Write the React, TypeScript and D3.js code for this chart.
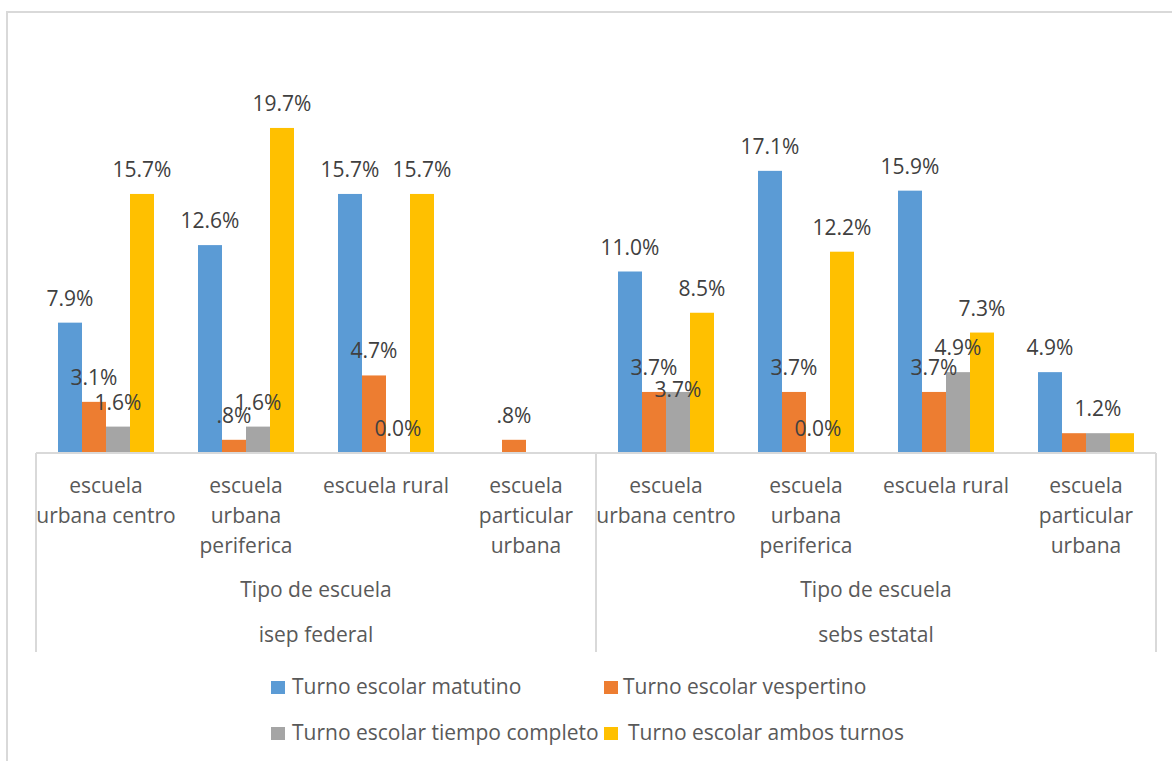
import React from "react";
import * as d3 from "d3";

// ---- data ----
const outerGroups = ["isep federal", "sebs estatal"];
const middleLabel = "Tipo de escuela";
const categoryLines: string[][] = [
  ["escuela", "urbana centro"],
  ["escuela", "urbana", "periferica"],
  ["escuela rural"],
  ["escuela", "particular", "urbana"],
];
const seriesNames = [
  "Turno escolar matutino",
  "Turno escolar vespertino",
  "Turno escolar tiempo completo",
  "Turno escolar ambos turnos",
];
const seriesColors = ["#5B9BD5", "#ED7D31", "#A5A5A5", "#FFC000"];
// values per category (8 = 4 federal + 4 estatal); null = no data
const matutino: (number | null)[] = [7.9, 12.6, 15.7, null, 11.0, 17.1, 15.9, 4.9];
const vespertino: (number | null)[] = [3.1, 0.8, 4.7, 0.8, 3.7, 3.7, 3.7, 1.2];
const tiempoCompleto: (number | null)[] = [1.6, 1.6, 0.0, null, 3.7, 0.0, 4.9, 1.2];
const ambosTurnos: (number | null)[] = [15.7, 19.7, 15.7, null, 8.5, 12.2, 7.3, 1.2];
const seriesValues = [matutino, vespertino, tiempoCompleto, ambosTurnos];
// labels that were removed in the original (series index, category index)
const hiddenLabels = [
  [1, 7],
  [3, 7],
];
// labels dragged from their default place (series, category, dy)
const movedLabels = [[2, 4, 22]];

const fmt = (v: number) => {
  const s = v.toFixed(1) + "%";
  return s.startsWith("0.") && v !== 0 ? s.slice(1) : s;
};

export default function App() {
  const W = 1172;
  const H = 761;
  const left = 36;
  const right = 1156;
  const base = 453;
  const nCat = outerGroups.length * categoryLines.length;
  const x0 = d3
    .scaleBand<number>()
    .domain(d3.range(nCat))
    .range([left, right])
    .padding(0);
  const x1 = d3
    .scaleBand<number>()
    .domain(d3.range(seriesNames.length))
    .range([0, x0.bandwidth()])
    .paddingInner(0)
    .paddingOuter(22 / 24);
  const y = d3.scaleLinear().domain([0, 20]).range([base, 123]);
  const groupW = x0.bandwidth() * categoryLines.length;

  const font = "'Open Sans', sans-serif";
  const axisColor = "#D9D9D9";
  const lblColor = "#404040";
  const txtColor = "#595959";
  const fs = 21;

  const isHidden = (s: number, c: number) =>
    hiddenLabels.some(([a, b]) => a === s && b === c);
  const moved = (s: number, c: number) => {
    const m = movedLabels.find(([a, b]) => a === s && b === c);
    return m ? m[2] : 0;
  };

  const legendItems = [
    { i: 0, x: 271, y: 681, tx: 21 },
    { i: 1, x: 604, y: 681, tx: 19 },
    { i: 2, x: 271, y: 727, tx: 21 },
    { i: 3, x: 604, y: 727, tx: 24 },
  ];

  return (
    <div style={{ position: "absolute", left: 0, top: 0 }}>
      <svg width={W} height={H} style={{ display: "block", background: "#fff" }}>
        <rect x={7} y={12} width={1300} height={900} fill="#fff" stroke={axisColor} strokeWidth={2} />
        {/* bars */}
        {seriesValues.map((vals, s) =>
          vals.map((v, c) =>
            v === null || v === 0 ? null : (
              <rect
                key={`b${s}-${c}`}
                x={(x0(c) as number) + (x1(s) as number)}
                y={y(v)}
                width={x1.bandwidth()}
                height={base - y(v)}
                fill={seriesColors[s]}
              />
            )
          )
        )}
        {/* axis lines */}
        <line x1={left} x2={right} y1={base} y2={base} stroke={axisColor} strokeWidth={2} />
        {d3.range(outerGroups.length + 1).map((g) => {
          const xx = left + g * groupW;
          return (
            <line key={`v${g}`} x1={xx} x2={xx} y1={base} y2={652} stroke={axisColor} strokeWidth={2} />
          );
        })}
        {/* data labels */}
        {seriesValues.map((vals, s) =>
          vals.map((v, c) =>
            v === null || isHidden(s, c) ? null : (
              <text
                key={`l${s}-${c}`}
                x={(x0(c) as number) + (x1(s) as number) + x1.bandwidth() / 2}
                y={y(v) - 17 + moved(s, c)}
                textAnchor="middle"
                fontFamily={font}
                fontSize={fs}
                fill={lblColor}
              >
                {fmt(v)}
              </text>
            )
          )
        )}
        {/* category labels */}
        {d3.range(nCat).map((c) => {
          const lines = categoryLines[c % categoryLines.length];
          const cx = (x0(c) as number) + x0.bandwidth() / 2;
          return (
            <text key={`c${c}`} textAnchor="middle" fontFamily={font} fontSize={fs} fill={txtColor}>
              {lines.map((ln, k) => (
                <tspan key={k} x={cx} y={493 + k * 30}>
                  {ln}
                </tspan>
              ))}
            </text>
          );
        })}
        {outerGroups.map((g, i) => {
          const cx = left + i * groupW + groupW / 2;
          return (
            <g key={`o${i}`} fontFamily={font} fontSize={fs} fill={txtColor} textAnchor="middle">
              <text x={cx} y={597}>{middleLabel}</text>
              <text x={cx} y={642}>{g}</text>
            </g>
          );
        })}
        {/* legend */}
        {legendItems.map((it) => (
          <g key={`lg${it.i}`}>
            <rect x={it.x} y={it.y} width={14} height={13} fill={seriesColors[it.i]} />
            <text x={it.x + it.tx} y={it.y + 13} fontFamily={font} fontSize={fs} fill={txtColor}>
              {seriesNames[it.i]}
            </text>
          </g>
        ))}
      </svg>
    </div>
  );
}
